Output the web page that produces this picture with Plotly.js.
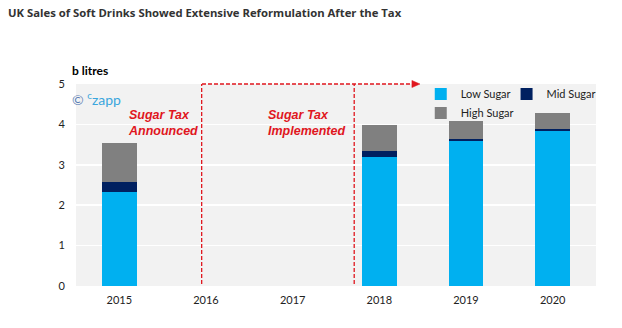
<!DOCTYPE html>
<html><head><meta charset="utf-8">
<script src="https://cdn.plot.ly/plotly-3.0.1.min.js"></script>
<style>html,body{margin:0;padding:0;background:#fff}</style>
</head><body>
<div id="chart" style="width:622px;height:328px"></div>
<script>
const years = ['2015','2016','2017','2018','2019','2020'];
const lowSugar  = [2.32, null, null, 3.20, 3.60, 3.83];
const midSugar  = [0.26, null, null, 0.14, 0.05, 0.05];
const highSugar = [0.95, null, null, 0.64, 0.43, 0.40];
const yTicks = [0, 1, 2, 3, 4, 5];

const red = '#e0161e';
const baseFont = {family: 'Lato, "Liberation Sans", sans-serif', size: 11, color: '#222'};
const legendFont = {family: 'Lato, "Liberation Sans", sans-serif', size: 11, color: '#222'};

const traces = [
  {type:'bar', name:'Low Sugar', x:years, y:lowSugar, marker:{color:'#00b0f0'}, legend:'legend'},
  {type:'bar', name:'Mid Sugar', x:years, y:midSugar, marker:{color:'#002060'}, legend:'legend2'},
  {type:'bar', name:'High Sugar', x:years, y:highSugar, marker:{color:'#808080'}, legend:'legend3'}
];

const legBase = {xanchor:'left', yanchor:'middle', bgcolor:'rgba(0,0,0,0)', font:legendFont, itemwidth:30};

const layout = {
  width:622, height:328,
  margin:{l:76, r:26, t:84, b:42, autoexpand:false},
  paper_bgcolor:'#ffffff', plot_bgcolor:'#f2f2f2',
  barmode:'stack', bargap:0.6,
  font: baseFont,
  title:{text:'UK Sales of Soft Drinks Showed Extensive Reformulation After the Tax',
    x:0.013, xanchor:'left', y:0.96, yanchor:'middle',
    font:{family:'"Open Sans", sans-serif', size:11.3, color:'#333', weight:'bold'}},
  xaxis:{type:'category', showgrid:false, zeroline:false, showline:false, ticks:'',
    ticklabelstandoff:6, tickfont:baseFont, fixedrange:true},
  yaxis:{range:[0,5], tickvals:yTicks, ticktext:yTicks.map(String), gridcolor:'#ffffff', gridwidth:1.5,
    zeroline:false, showline:false, ticks:'', ticklabelstandoff:10, tickfont:baseFont},
  showlegend:true,
  legend: Object.assign({x:0.663, y:0.95}, legBase),
  legend2: Object.assign({x:0.828, y:0.95}, legBase),
  legend3: Object.assign({x:0.663, y:0.856}, legBase),
  shapes:[
    {type:'line', xref:'x', yref:'y', x0:0.95, x1:0.95, y0:0.05, y1:5, line:{color:red, width:1.3, dash:'4px,2px'}},
    {type:'line', xref:'x', yref:'y', x0:2.71, x1:2.71, y0:0.05, y1:5, line:{color:red, width:1.3, dash:'4px,2px'}},
    {type:'line', xref:'paper', yref:'paper', x0:0.2423, x1:0.648, y0:1.0, y1:1.0, line:{color:red, width:1.3, dash:'4px,2px'}},
    {type:'path', xref:'paper', yref:'paper', path:'M0.646,1.0175 L0.6615,1 L0.646,0.9825 Z', fillcolor:red, line:{color:red, width:0.5}}
  ],
  annotations:[
    {xref:'x', yref:'y', x:0.08, y:4.03, xanchor:'left', yanchor:'middle', align:'left', showarrow:false,
      text:'<b><i>Sugar Tax<br>Announced</i></b>',
      font:{family:'"Liberation Sans", Arial, sans-serif', size:12.5, color:red}},
    {xref:'x', yref:'y', x:1.69, y:4.03, xanchor:'left', yanchor:'middle', align:'left', showarrow:false,
      text:'<b><i>Sugar Tax<br>Implemented</i></b>',
      font:{family:'"Liberation Sans", Arial, sans-serif', size:12.5, color:red}},
    {xref:'paper', yref:'paper', x:-0.012, y:1.02, xanchor:'left', yanchor:'bottom', showarrow:false,
      text:'<b>b litres</b>', font:{family:'Lato, sans-serif', size:12, color:'#000'}},
    {xref:'paper', yref:'paper', x:-0.012, y:0.93, xanchor:'left', yanchor:'middle', showarrow:false,
      text:'<span style="color:#5b7fb5">©</span> <span style="color:#3aa6dd"><sup>c</sup>zapp</span>',
      font:{family:'Lato, sans-serif', size:14, color:'#3aa6dd'}}
  ]
};

Plotly.newPlot('chart', traces, layout, {displayModeBar:false, staticPlot:true});
</script>
</body></html>
